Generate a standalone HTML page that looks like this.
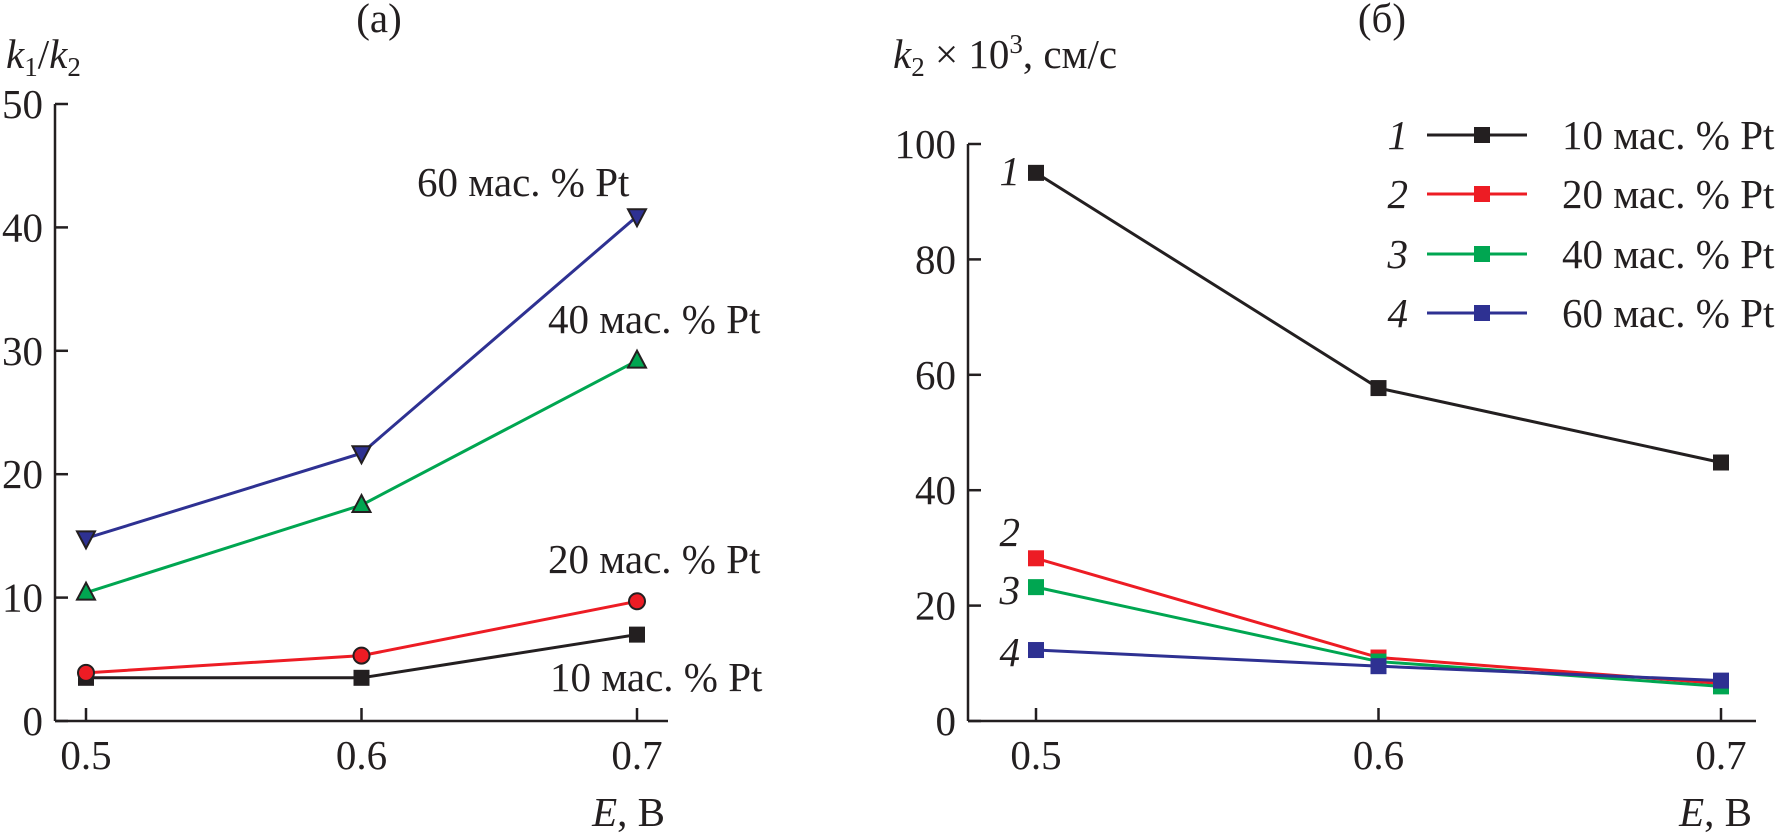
<!DOCTYPE html>
<html><head><meta charset="utf-8"><style>
html,body{margin:0;padding:0;background:#fff}
svg{display:block}
text{font-family:"Liberation Serif",serif;fill:#231f20}
</style></head><body>
<svg id="c" width="1791" height="833" viewBox="0 0 1791 833" xmlns="http://www.w3.org/2000/svg"></svg>
<script>
const xCats=[0.5,0.6,0.7];
const leftTicks=[0,10,20,30,40,50];
const rightTicks=[0,20,40,60,80,100];
const leftS10=[3.5,3.5,7.0];
const leftS20=[3.9,5.3,9.7];
const leftS40=[10.4,17.5,29.2];
const leftS60=[14.8,21.7,40.9];
const rightS10=[95,57.7,44.8];
const rightS20=[28.2,11,6.5];
const rightS40=[23.2,10.3,6];
const rightS60=[12.3,9.5,7];
const seriesNames=["10 мас. % Pt","20 мас. % Pt","40 мас. % Pt","60 мас. % Pt"];
const colors=["#231f20","#ed1c24","#00a651","#2e3192"];
const FS=41;
const NS="http://www.w3.org/2000/svg";
const svg=document.getElementById('c');
function el(tag,attrs,parent){const e=document.createElementNS(NS,tag);for(const k in attrs)e.setAttribute(k,attrs[k]);(parent||svg).appendChild(e);return e;}
function panel(cfg){
  const g=el('g',{});
  
  
  const X=v=>cfg.x0+(v-0.5)/0.1*cfg.dx;
  const Y=v=>cfg.y0-(v/cfg.ymax)*(cfg.y0-cfg.ytop);
  const ya=el('line',{x1:cfg.ax,y1:cfg.ytop,x2:cfg.ax,y2:cfg.y0,stroke:'#231f20','stroke-width':2.5},g);
  
  const xa=el('line',{x1:cfg.ax,y1:cfg.y0,x2:cfg.xend,y2:cfg.y0,stroke:'#231f20','stroke-width':2.5},g);
  
  cfg.ticks.forEach(t=>{
    el('line',{x1:cfg.ax,y1:Y(t),x2:cfg.ax+13,y2:Y(t),stroke:'#231f20','stroke-width':2.5},g);
    const tx=el('text',{x:cfg.ax-12,y:Y(t)+14,'text-anchor':'end','font-size':FS},g);
    tx.textContent=t;
    
  });
  xCats.forEach(c=>{
    el('line',{x1:X(c),y1:cfg.y0,x2:X(c),y2:cfg.y0-13,stroke:'#231f20','stroke-width':2.5},g);
    const tx=el('text',{x:X(c),y:cfg.y0+48,'text-anchor':'middle','font-size':FS},g);
    tx.textContent=c.toFixed(1);
    
  });
  cfg.series.forEach((s,i)=>{
    const pts=s.map((v,j)=>X(xCats[j])+','+Y(v)).join(' ');
    const pl=el('polyline',{points:pts,fill:'none',stroke:colors[i],'stroke-width':3},g);
    
    s.forEach((v,j)=>{
      const x=X(xCats[j]),y=Y(v);let m;
      const mk=cfg.markers[i];
      if(mk==='sq')m=el('rect',{x:x-8,y:y-8,width:16,height:16,fill:colors[i]},g);
      else if(mk==='ci')m=el('circle',{cx:x,cy:y,r:8,fill:colors[i],stroke:'#231f20','stroke-width':2},g);
      else if(mk==='up')m=el('polygon',{points:`${x},${y-10} ${x-9},${y+7} ${x+9},${y+7}`,fill:colors[i],stroke:'#231f20','stroke-width':2},g);
      else m=el('polygon',{points:`${x},${y+10} ${x-9},${y-7} ${x+9},${y-7}`,fill:colors[i],stroke:'#231f20','stroke-width':2},g);
      
    });
  });
  return {X,Y,g};
}
const L=panel({name:'chart-a',ax:55,x0:86,dx:275.5,y0:721,ytop:104,ymax:50,xend:668,ticks:leftTicks,
  series:[leftS10,leftS20,leftS40,leftS60],markers:['sq','ci','up','dn']});
const R=panel({name:'chart-b',ax:968,x0:1036,dx:342.5,y0:721,ytop:144,ymax:100,xend:1756,ticks:rightTicks,
  series:[rightS10,rightS20,rightS40,rightS60],markers:['sq','sq','sq','sq']});
function txt(x,y,s,attrs,name){const t=el('text',Object.assign({x:x,y:y,'font-size':FS},attrs||{}));t.innerHTML=s;return t;}
txt(379,32,'(a)',{'text-anchor':'middle'},'panel-a-title');
txt(1382,32,'(б)',{'text-anchor':'middle'},'panel-b-title');
txt(6,68,'<tspan font-style="italic">k</tspan><tspan font-size="27" dy="8">1</tspan><tspan dy="-8">/</tspan><tspan font-style="italic">k</tspan><tspan font-size="27" dy="8">2</tspan>',{},'y-axis-title-a');
txt(893,68,'<tspan font-style="italic">k</tspan><tspan font-size="27" dy="8">2</tspan><tspan dy="-8"> × 10</tspan><tspan font-size="27" dy="-15">3</tspan><tspan dy="15">, см/с</tspan>',{},'y-axis-title-b');
txt(665,826,'<tspan font-style="italic">E</tspan>, В',{'text-anchor':'end'},'x-axis-title-a');
txt(1752,826,'<tspan font-style="italic">E</tspan>, В',{'text-anchor':'end'},'x-axis-title-b');
txt(417,196,seriesNames[3],{},'label-60');
txt(548,333,seriesNames[2],{},'label-40');
txt(548,573,seriesNames[1],{},'label-20');
txt(550,691,seriesNames[0],{},'label-10');
const numY=[185,546,604,666];
['1','2','3','4'].forEach((n,i)=>{
  txt(1020,numY[i],n,{'font-style':'italic','text-anchor':'end'},'curve-number-'+n);
});
const ly=[135,194,254,313];
ly.forEach((y,i)=>{
  const g=el('g',{});
  
  
  const t=el('text',{x:1408,y:y+14,'font-size':FS,'font-style':'italic','text-anchor':'end'},g);t.textContent=String(i+1);
  el('line',{x1:1427,y1:y,x2:1527,y2:y,stroke:colors[i],'stroke-width':3},g);
  el('rect',{x:1474,y:y-8,width:16,height:16,fill:colors[i]},g);
  const t2=el('text',{x:1562,y:y+14,'font-size':FS},g);t2.textContent=seriesNames[i];
});
</script>
</body></html>
